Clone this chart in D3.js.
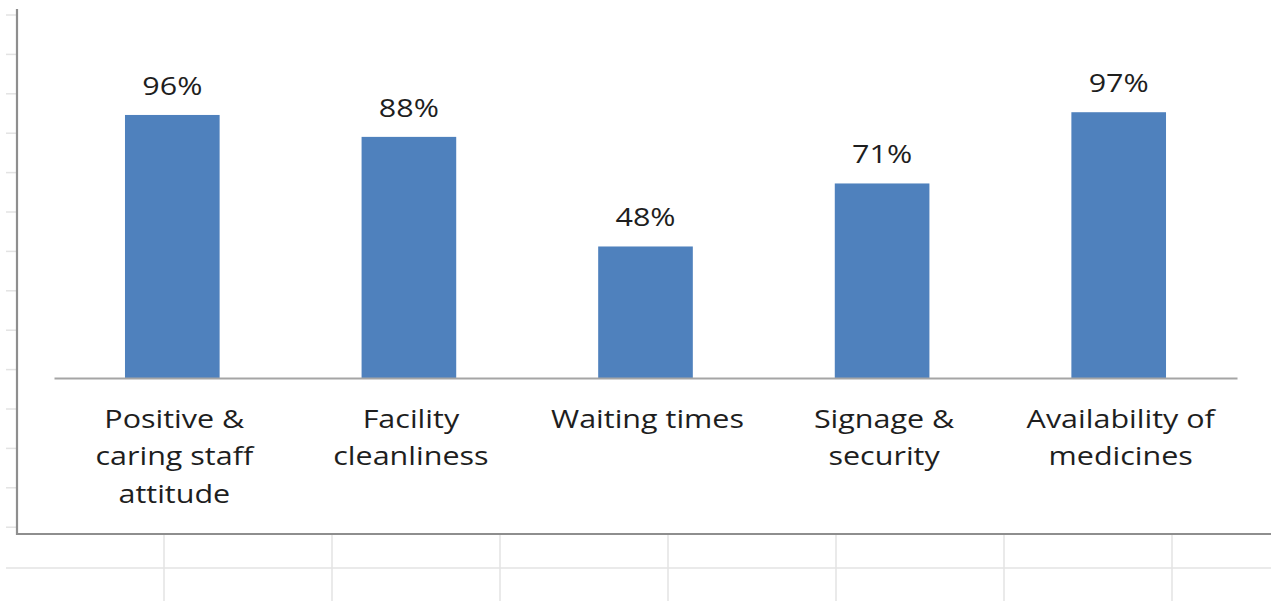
<!DOCTYPE html>
<html>
<head>
<meta charset="utf-8">
<script src="https://cdn.jsdelivr.net/npm/d3@7"></script>
<style>
  body { margin: 0; background: #fff; }
  text { font-family: "Open Sans", sans-serif; fill: #1e1e1e; }
</style>
</head>
<body>
<div id="chart"></div>
<script>
// chart data
var categories = ['Positive & caring staff attitude', 'Facility cleanliness', 'Waiting times', 'Signage & security', 'Availability of medicines'];
var labelLines = [
  ['Positive &', 'caring staff', 'attitude'],
  ['Facility', 'cleanliness'],
  ['Waiting times'],
  ['Signage &', 'security'],
  ['Availability of', 'medicines']
];
var values = [0.96, 0.88, 0.48, 0.71, 0.97];

var width = 1271, height = 601;
var stretch = 1.22; // text in the picture is a bit wide

var svg = d3.select('#chart').append('svg')
  .attr('width', width)
  .attr('height', height);

// spreadsheet cells behind the chart object
var grid = svg.append('g').attr('stroke', '#e3e3e3').attr('stroke-width', 1.5);
d3.range(0, 14).forEach(function(i) {
  var gy = 15 + i * 39.4;
  grid.append('line').attr('x1', 6).attr('x2', 17).attr('y1', gy).attr('y2', gy);
});
grid.append('line').attr('x1', 6).attr('x2', width).attr('y1', 568).attr('y2', 568);
d3.range(0, 7).forEach(function(i) {
  var gx = 164 + i * 168;
  grid.append('line').attr('x1', gx).attr('x2', gx).attr('y1', 533).attr('y2', height);
});

// chart frame (left and bottom visible)
svg.append('path')
  .attr('d', 'M17,9 V534 H' + width)
  .attr('fill', 'none')
  .attr('stroke', '#8e8e8e')
  .attr('stroke-width', 2.2);

var x = d3.scaleBand()
  .domain(categories)
  .range([54, 1237])
  .paddingInner(0.6)
  .paddingOuter(0.3);

var y = d3.scaleLinear()
  .domain([0, 1])
  .range([378, 104]);

var data = categories.map(function(c, i) {
  return {name: c, value: values[i], lines: labelLines[i]};
});

// bars
svg.selectAll('.bar')
  .data(data)
  .enter()
  .append('rect').attr('class', 'bar')
  .attr('x', function(d) { return x(d.name); })
  .attr('y', function(d) { return y(d.value); })
  .attr('width', x.bandwidth())
  .attr('height', function(d) { return y(0) - y(d.value); })
  .attr('fill', '#4f81bd');

// category axis line, no ticks
var xAxis = svg.append('g')
  .attr('transform', 'translate(0,' + y(0) + ')')
  .call(d3.axisBottom(x).tickSize(0).tickFormat(''));
xAxis.select('.domain').attr('stroke', '#a5a5a5').attr('stroke-width', 2);

// value labels
svg.selectAll('.val')
  .data(data)
  .enter()
  .append('text').attr('class', 'val')
  .attr('transform', function(d) {
    return 'translate(' + (x(d.name) + x.bandwidth() / 2) + ',' + (y(d.value) - 20) + ') scale(' + stretch + ',1)';
  })
  .attr('text-anchor', 'middle')
  .style('font-size', '25px')
  .text(function(d) { return d3.format('.0%')(d.value); });

// category labels, wrapped like in the picture
var cat = svg.selectAll('.cat')
  .data(data)
  .enter()
  .append('text').attr('class', 'cat')
  .attr('transform', function(d) {
    return 'translate(' + (x(d.name) + x.bandwidth() / 2 + 2) + ',428) scale(' + stretch + ',1)';
  })
  .attr('text-anchor', 'middle')
  .style('font-size', '25px');

cat.selectAll('tspan')
  .data(function(d) { return d.lines; })
  .enter()
  .append('tspan')
  .attr('x', 0)
  .attr('y', function(d, i) { return i * 37.5; })
  .text(function(d) { return d; });
</script>
</body>
</html>
